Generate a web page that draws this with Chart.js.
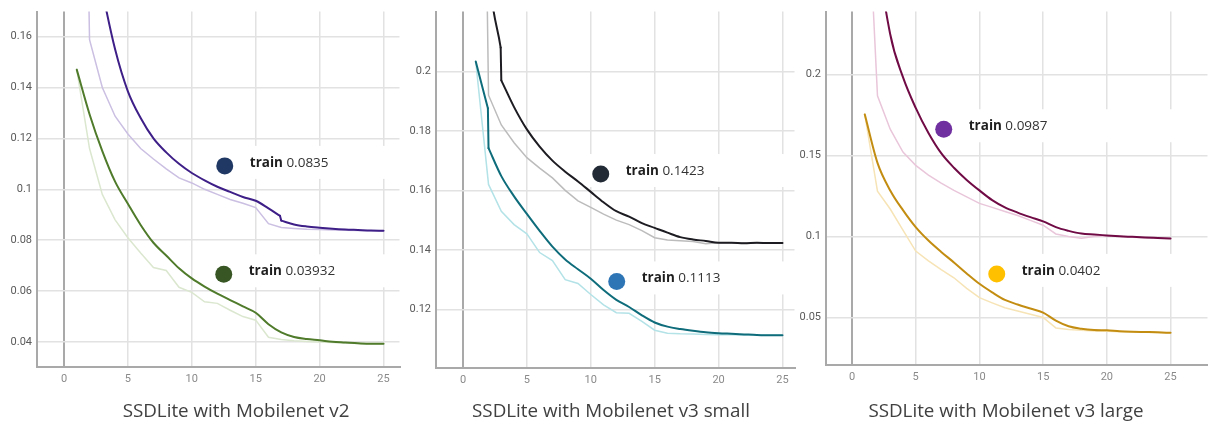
<!DOCTYPE html>
<html>
<head>
<meta charset="utf-8">
<script src="https://cdn.jsdelivr.net/npm/chart.js@4.4.1/dist/chart.umd.min.js"></script>
<style>
  html, body { margin: 0; padding: 0; background: #ffffff; }
  body { width: 1208px; height: 423px; position: relative; overflow: hidden; }
  .panel { position: absolute; top: 0; }
  .title { position: absolute; width: 400px; text-align: center; font-family: "Open Sans", sans-serif; font-size: 18.8px; color: #404040; white-space: nowrap; }
</style>
</head>
<body>
<div class="panel" style="left:0px;"><canvas id="c1" width="408" height="400"></canvas></div>
<div class="panel" style="left:400px;"><canvas id="c2" width="403" height="401"></canvas></div>
<div class="panel" style="left:800px;"><canvas id="c3" width="416" height="398"></canvas></div>
<div class="title" id="t1" style="left:36px; top:397px;"></div>
<div class="title" id="t2" style="left:411px; top:397px;"></div>
<div class="title" id="t3" style="left:806px; top:397px;"></div>
<script>
// ---------- shared tick labels ----------
const xTicks = [0, 5, 10, 15, 20, 25];
const epochs = [1,2,3,4,5,6,7,8,9,10,11,12,13,14,15,16,17,18,19,20,21,22,23,24,25];

// ---------- Panel 1: SSDLite with Mobilenet v2 ----------
const p1Title = "SSDLite with Mobilenet v2";
const p1YTicks = [0.04, 0.06, 0.08, 0.1, 0.12, 0.14, 0.16];
const p1PurpleX = [1,2,3,4,5,6,7,8,9,10,11,12,13,14,15,16,16.9,17,18,19,20,21,22,23,24,25];
const p1PurpleY = [0.26,0.205,0.178,0.155,0.1385,0.128,0.120,0.1145,0.110,0.1064,0.1035,0.101,0.099,0.097,0.0955,0.0925,0.0896,0.0877,0.0862,0.0854,0.0849,0.0845,0.0842,0.084,0.0838,0.0837];
const p1PurpleSteps = [16];   // index where a sharp drop begins
const p1PurpleRawY = [0.45,0.1588,0.140,0.1287,0.1217,0.116,0.1119,0.108,0.1045,0.1025,0.100,0.098,0.096,0.0945,0.0928,0.0865,0.085,0.0846,0.0843,0.0842,0.084,0.0839,0.0838,0.0837,0.0836];
const p1GreenY = [0.147,0.1295,0.115,0.103,0.0943,0.086,0.079,0.074,0.069,0.065,0.0618,0.059,0.0565,0.054,0.0515,0.047,0.0438,0.042,0.0412,0.0407,0.0401,0.0398,0.0395,0.0393,0.0393];
const p1GreenRawY = [0.147,0.116,0.098,0.088,0.081,0.075,0.0693,0.0681,0.0615,0.0595,0.0558,0.0552,0.0525,0.050,0.0486,0.0419,0.041,0.0405,0.0402,0.04,0.0398,0.0396,0.0394,0.0393,0.0393];
const p1MarkerX = [12.58, 12.5];
const p1MarkerY = [0.1092, 0.0666];
const p1MarkerText = ["0.0835", "0.03932"];

// ---------- Panel 2: SSDLite with Mobilenet v3 small ----------
const p2Title = "SSDLite with Mobilenet v3 small";
const p2YTicks = [0.12, 0.14, 0.16, 0.18, 0.2];
const p2DarkX = [1,2,2.95,3,4,5,6,7,8,9,10,11,12,13,14,15,16,17,18,19,20,21,22,23,24,25];
const p2DarkY = [0.32,0.235,0.208,0.197,0.188,0.1805,0.1747,0.170,0.1663,0.163,0.1595,0.156,0.153,0.1512,0.149,0.1474,0.1458,0.1443,0.1435,0.143,0.1424,0.1424,0.1422,0.1424,0.1423,0.1423];
const p2DarkSteps = [2];
const p2GrayY = [0.5,0.192,0.182,0.176,0.171,0.1675,0.1642,0.160,0.1565,0.1543,0.152,0.150,0.1485,0.1465,0.1441,0.1433,0.1431,0.1428,0.1421,0.1424,0.1424,0.1423,0.1423,0.1422,0.1422];
const p2TealX = [1,1.95,2,3,4,5,6,7,8,9,10,11,12,13,14,15,16,17,18,19,20,21,22,23,24,25];
const p2TealY = [0.2033,0.1876,0.1742,0.1648,0.158,0.1521,0.1464,0.1411,0.1368,0.1335,0.1303,0.1265,0.1232,0.1208,0.118,0.1156,0.1142,0.1134,0.1128,0.1123,0.112,0.1118,0.1116,0.1114,0.1113,0.1113];
const p2TealSteps = [1];
const p2TealRawY = [0.2033,0.162,0.153,0.1485,0.1454,0.1391,0.1364,0.130,0.1287,0.125,0.1215,0.1189,0.1187,0.116,0.113,0.112,0.1118,0.1117,0.1116,0.1115,0.1115,0.1114,0.1114,0.1113,0.1113];
const p2MarkerX = [10.78, 12.03];
const p2MarkerY = [0.1655, 0.1294];
const p2MarkerText = ["0.1423", "0.1113"];

// ---------- Panel 3: SSDLite with Mobilenet v3 large ----------
const p3Title = "SSDLite with Mobilenet v3 large";
const p3YTicks = [0.05, 0.1, 0.15, 0.2];
const p3MaroonY = [0.40,0.28,0.225,0.1985,0.1795,0.164,0.1515,0.1425,0.135,0.1285,0.1225,0.118,0.1148,0.112,0.1094,0.1058,0.1035,0.1018,0.1012,0.1007,0.1002,0.0998,0.0994,0.0991,0.0988];
const p3PinkY = [0.35,0.187,0.1663,0.1522,0.144,0.138,0.133,0.1285,0.1245,0.1205,0.118,0.1155,0.113,0.110,0.107,0.1016,0.1,0.099,0.1,0.1003,0.1,0.0995,0.0992,0.099,0.0988];
const p3GoldY = [0.1755,0.1455,0.1285,0.1163,0.1058,0.0975,0.0905,0.084,0.0772,0.0708,0.0655,0.0608,0.058,0.0555,0.053,0.048,0.0445,0.043,0.0422,0.042,0.0415,0.0412,0.041,0.0408,0.0405];
const p3GoldRawY = [0.1755,0.128,0.117,0.104,0.091,0.085,0.0795,0.0745,0.068,0.0622,0.059,0.056,0.054,0.052,0.05,0.0435,0.0425,0.042,0.0416,0.0414,0.0412,0.041,0.0408,0.0406,0.0405];
const p3MarkerX = [7.2, 11.36];
const p3MarkerY = [0.1663, 0.0769];
const p3MarkerText = ["0.0987", "0.0402"];

// ---------- helpers ----------
function pts(xs, ys) { return xs.map((x, i) => ({ x: x, y: ys[i] })); }

// smooth line; optional step indices where a sharp straight drop is drawn between point i and i+1
function smoothLine(xs, ys, color, steps) {
  const all = pts(xs, ys);
  const cuts = (steps || []).slice().sort((a, b) => a - b);
  const pieces = [];
  let start = 0;
  cuts.forEach(i => {
    pieces.push(all.slice(start, i + 1));
    pieces.push(all.slice(i, i + 2));
    start = i + 1;
  });
  pieces.push(all.slice(start));
  return pieces.filter(p => p.length > 1).map(p => ({
    type: 'line', data: p, borderColor: color, borderWidth: 2, borderCapStyle: 'round', borderJoinStyle: 'round',
    pointRadius: 0, cubicInterpolationMode: 'monotone', fill: false
  }));
}
function rawLine(xs, ys, color) {
  return [{ type: 'line', data: pts(xs, ys), borderColor: color, borderWidth: 1.5,
           pointRadius: 0, tension: 0, fill: false }];
}
function markers(xs, ys, colors) {
  return [{ type: 'scatter', data: pts(xs, ys), backgroundColor: colors, borderColor: colors,
           pointRadius: 8.5, borderWidth: 0, showLine: false }];
}

const labelPlugin = {
  id: 'trainLabels',
  beforeDatasetsDraw(chart) {
    const o = chart.options.plugins.trainLabels;
    const xs = chart.scales.x, ys = chart.scales.y, ca = chart.chartArea, ctx = chart.ctx;
    ctx.save();
    ctx.fillStyle = '#ffffff';
    o.x.forEach((mx, i) => {
      const px = xs.getPixelForValue(mx), py = ys.getPixelForValue(o.y[i]);
      ctx.fillRect(px - 14, py - 20, ca.right - (px - 14), 33);
    });
    ctx.restore();
  },
  afterDatasetsDraw(chart) {
    const o = chart.options.plugins.trainLabels;
    const xs = chart.scales.x, ys = chart.scales.y, ctx = chart.ctx;
    ctx.save();
    ctx.textBaseline = 'middle';
    ctx.textAlign = 'left';
    o.x.forEach((mx, i) => {
      const px = xs.getPixelForValue(mx), py = ys.getPixelForValue(o.y[i]);
      const tx = px + 25, ty = py - 3;
      ctx.font = 'bold 13.5px "Open Sans", sans-serif';
      ctx.fillStyle = '#1e1e1e';
      ctx.fillText('train', tx, ty);
      const w = ctx.measureText('train').width;
      ctx.font = '13.5px "Open Sans", sans-serif';
      ctx.fillStyle = '#333333';
      ctx.fillText(o.text[i], tx + w + 3.5, ty);
    });
    ctx.restore();
  }
};

function makePanel(id, cfg) {
  new Chart(document.getElementById(id), {
    data: { datasets: cfg.datasets.flat() },
    plugins: [labelPlugin],
    options: {
      responsive: false, animation: false, devicePixelRatio: 1,
      layout: { padding: { top: cfg.padTop, right: 0, left: 0, bottom: 0 } },
      plugins: {
        legend: { display: false }, tooltip: { enabled: false }, title: { display: false },
        trainLabels: { x: cfg.mx, y: cfg.my, text: cfg.mt }
      },
      scales: {
        x: {
          type: 'linear', min: cfg.xmin, max: cfg.xmax,
          afterBuildTicks: s => { s.ticks = xTicks.map(v => ({ value: v })); },
          afterFit: s => { s.height = 33; },
          grid: {
            drawTicks: false,
            color: c => (c.tick && c.tick.value === 0) ? '#a9a9a9' : '#e2e2e2',
            lineWidth: c => (c.tick && c.tick.value === 0) ? 2 : 1.5
          },
          border: { display: true, color: '#a9a9a9', width: 2 },
          ticks: { padding: 6, color: '#8a8a8a', font: { family: 'Roboto, sans-serif', size: 11 } }
        },
        y: {
          type: 'linear', min: cfg.ymin, max: cfg.ymax,
          afterBuildTicks: s => { s.ticks = cfg.yTicks.map(v => ({ value: v })); },
          afterFit: s => { s.width = cfg.yWidth; },
          grid: { drawTicks: false, color: '#e2e2e2', lineWidth: 1.5 },
          border: { display: true, color: '#a9a9a9', width: 2 },
          ticks: { padding: 5, color: '#5a5a5a', font: { family: 'Roboto, sans-serif', size: 11 },
                   callback: v => String(+Number(v).toFixed(3)) }
        }
      }
    }
  });
}

makePanel('c1', {
  padTop: 10, yWidth: 37,
  xmin: -2.11, xmax: 26.25, ymin: 0.0302, ymax: 0.1698, yTicks: p1YTicks,
  mx: p1MarkerX, my: p1MarkerY, mt: p1MarkerText,
  datasets: [
    markers(p1MarkerX, p1MarkerY, ['#1f3864', '#375623']),
    smoothLine(p1PurpleX, p1PurpleY, '#3e1f88', p1PurpleSteps),
    smoothLine(epochs, p1GreenY, '#4f7b2b'),
    rawLine(epochs, p1PurpleRawY, '#cbbfe2'),
    rawLine(epochs, p1GreenRawY, '#dbe7cf')
  ]
});

makePanel('c2', {
  padTop: 10, yWidth: 36,
  xmin: -2.11, xmax: 25.94, ymin: 0.1003, ymax: 0.2201, yTicks: p2YTicks,
  mx: p2MarkerX, my: p2MarkerY, mt: p2MarkerText,
  datasets: [
    markers(p2MarkerX, p2MarkerY, ['#222a35', '#2e75b6']),
    smoothLine(p2DarkX, p2DarkY, '#1c1c22', p2DarkSteps),
    smoothLine(p2TealX, p2TealY, '#0f6d7b', p2TealSteps),
    rawLine(epochs, p2GrayY, '#bcbcbc'),
    rawLine(epochs, p2TealRawY, '#b3e2e7')
  ]
});

makePanel('c3', {
  padTop: 8, yWidth: 26,
  xmin: -2.04, xmax: 27.9, ymin: 0.0206, ymax: 0.239, yTicks: p3YTicks,
  mx: p3MarkerX, my: p3MarkerY, mt: p3MarkerText,
  datasets: [
    markers(p3MarkerX, p3MarkerY, ['#7030a0', '#ffc000']),
    smoothLine(epochs, p3MaroonY, '#700b46'),
    smoothLine(epochs, p3GoldY, '#c38d12'),
    rawLine(epochs, p3PinkY, '#e9c6da'),
    rawLine(epochs, p3GoldRawY, '#f7e4b6')
  ]
});

document.getElementById('t1').textContent = p1Title;
document.getElementById('t2').textContent = p2Title;
document.getElementById('t3').textContent = p3Title;
</script>
</body>
</html>
